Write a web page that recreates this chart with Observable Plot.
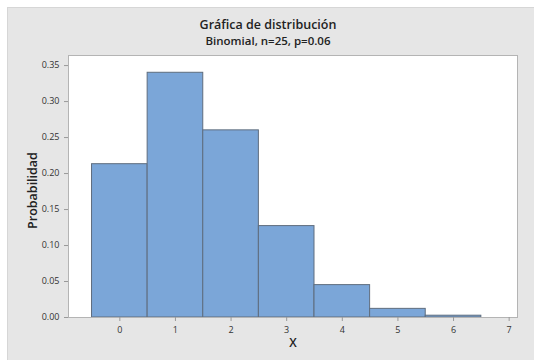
<!DOCTYPE html>
<html>
<head>
<meta charset="utf-8">
<script src="https://cdn.jsdelivr.net/npm/d3@7"></script>
<script src="https://cdn.jsdelivr.net/npm/@observablehq/plot@0.6"></script>
<style>
  html, body { margin: 0; padding: 0; background: #ffffff; }
  #wrap { position: relative; width: 534px; height: 360px; overflow: hidden; font-family: "Open Sans", "Noto Sans", sans-serif; }
  #panel { position: absolute; left: 7px; top: 7px; width: 527px; height: 353px; background: #e6e6e6; border-left: 1px solid #d6d6d6; border-top: 1px solid #d6d6d6; box-sizing: border-box; }
  #title { position: absolute; left: 0; width: 536px; top: 16px; text-align: center; font-size: 12.5px; font-weight: 600; color: #222; }
  #subtitle { position: absolute; left: 0; width: 536px; top: 33px; text-align: center; font-size: 11.5px; font-weight: 600; color: #222; }
  #chart { position: absolute; left: 0; top: 0; }
</style>
</head>
<body>
<div id="wrap">
  <div id="panel"></div>
  <div id="title">Gráfica de distribución</div>
  <div id="subtitle">Binomial, n=25, p=0.06</div>
  <div id="chart"></div>
</div>
<script>
const xValues = [0, 1, 2, 3, 4, 5, 6];
const probabilities = [0.213, 0.340, 0.260, 0.127, 0.045, 0.012, 0.0025];
const xTicks = [0, 1, 2, 3, 4, 5, 6, 7];
const yTicks = [0, 0.05, 0.10, 0.15, 0.20, 0.25, 0.30, 0.35];

const data = xValues.map((x, i) => ({x, p: probabilities[i]}));

const chart = Plot.plot({
  width: 534,
  height: 360,
  marginLeft: 68,
  marginRight: 17,
  marginTop: 55,
  marginBottom: 43,
  style: {background: "transparent", fontFamily: "'Open Sans', 'Noto Sans', sans-serif", fontSize: "9px", color: "#333"},
  x: {domain: [-0.923, 7.15], ticks: xTicks, tickFormat: d3.format("d"), label: null, tickSize: 4, tickPadding: 3},
  y: {domain: [0, 0.364], ticks: yTicks, tickFormat: d3.format(".2f"), label: null, tickSize: 4, tickPadding: 3},
  marks: [
    Plot.frame({fill: "white", stroke: "none"}),
    Plot.rectY(data, {x1: d => d.x - 0.5, x2: d => d.x + 0.5, y: "p", fill: "#7ba6d8", stroke: "#5f6d7e", strokeWidth: 1}),
    Plot.frame({stroke: "#b4b4b4", strokeWidth: 1}),
    Plot.axisX({ticks: xTicks, tickFormat: d3.format("d"), label: null, tickSize: 4, stroke: "#999", fill: "#333"}),
    Plot.axisY({ticks: yTicks, tickFormat: d3.format(".2f"), label: null, tickSize: 4, stroke: "#999", fill: "#333"}),
    Plot.text(["X"], {frameAnchor: "bottom", dy: 29, text: d => d, fontSize: 12, fontWeight: 600, fill: "#222"}),
    Plot.text(["Probabilidad"], {frameAnchor: "left", dx: -36, dy: 4, rotate: -90, textAnchor: "middle", text: d => d, fontSize: 12.5, fontWeight: 600, fill: "#222"})
  ]
});
document.getElementById("chart").appendChild(chart);
</script>
</body>
</html>
